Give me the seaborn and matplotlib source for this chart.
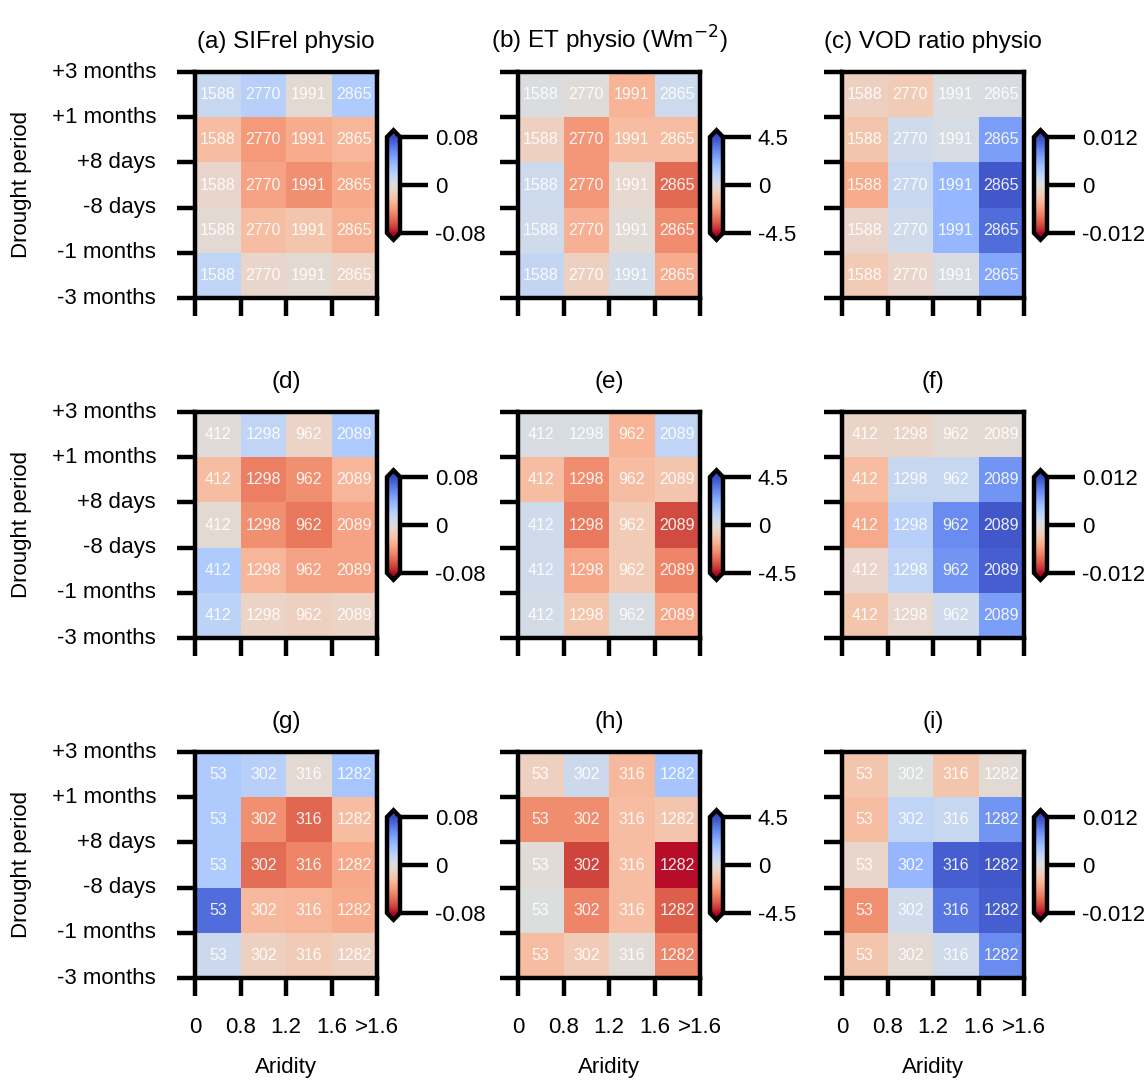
import numpy as np
import matplotlib.pyplot as plt
import seaborn as sns

# Axis labels
periods = ["+3 months", "+1 months", "+8 days", "-8 days", "-1 months", "-3 months"]
aridity = ["0", "0.8", "1.2", "1.6", ">1.6"]

# Sample counts per aridity bin (one list per row of panels)
counts_top = [1588, 2770, 1991, 2865]
counts_mid = [412, 1298, 962, 2089]
counts_bot = [53, 302, 316, 1282]

# SIFrel physio (rows: drought period, cols: aridity bins)
sif_a = [[0.012, 0.020, -0.004, 0.024],
         [-0.024, -0.040, -0.032, -0.028],
         [-0.008, -0.036, -0.044, -0.034],
         [-0.004, -0.024, -0.020, -0.030],
         [0.016, -0.008, -0.004, -0.010]]
sif_d = [[-0.002, 0.016, -0.010, 0.024],
         [-0.024, -0.050, -0.044, -0.028],
         [-0.004, -0.044, -0.052, -0.036],
         [0.024, -0.028, -0.036, -0.036],
         [0.018, -0.010, -0.012, -0.010]]
sif_g = [[0.024, 0.020, -0.004, 0.028],
         [0.024, -0.044, -0.058, -0.024],
         [0.024, -0.056, -0.048, -0.034],
         [0.068, -0.026, -0.028, -0.032],
         [0.010, -0.012, -0.016, -0.012]]

# ET physio (W m-2)
et_b = [[0.1, -0.1, -1.6, 0.5],
        [-0.7, -2.3, -1.35, -1.35],
        [0.5, -2.3, -0.35, -3.2],
        [0.45, -1.7, -0.2, -2.5],
        [0.8, -0.7, 0.35, -1.8]]
et_e = [[0.15, 0.2, -1.6, 0.9],
        [-1.35, -2.5, -1.35, -1.1],
        [0.45, -2.9, -0.9, -3.7],
        [0.45, -2.0, -0.9, -2.7],
        [0.35, -1.1, 0.2, -2.0]]
et_h = [[-0.7, 0.55, -1.45, 1.6],
        [-2.5, -2.5, -1.35, -1.1],
        [-0.2, -3.8, -1.35, -4.4],
        [0.0, -2.7, -1.35, -3.4],
        [-1.35, -0.9, -0.2, -2.7]]

# VOD ratio physio
vod_c = [[-0.0018, -0.0024, 0.0002, 0.0004],
         [-0.0030, 0.0012, 0.0006, 0.0072],
         [-0.0048, 0.0018, 0.0054, 0.0114],
         [-0.0012, 0.0012, 0.0054, 0.0102],
         [-0.0024, -0.0012, 0.0004, 0.0066]]
vod_f = [[-0.0014, -0.0014, -0.0006, -0.0006],
         [-0.0036, 0.0018, 0.0018, 0.0078],
         [-0.0050, 0.0030, 0.0084, 0.0114],
         [-0.0012, 0.0024, 0.0078, 0.0110],
         [-0.0030, -0.0010, 0.0012, 0.0072]]
vod_i = [[-0.0030, 0.0000, -0.0030, -0.0006],
         [-0.0036, 0.0024, 0.0018, 0.0078],
         [-0.0012, 0.0054, 0.0110, 0.0114],
         [-0.0066, 0.0012, 0.0096, 0.0110],
         [-0.0030, -0.0006, 0.0012, 0.0084]]

titles = ["(a) SIFrel physio", "(b) ET physio (Wm$^{-2}$)", "(c) VOD ratio physio",
          "(d)", "(e)", "(f)", "(g)", "(h)", "(i)"]
limits = [0.08, 4.5, 0.012]
limit_labels = [["-0.08", "0", "0.08"], ["-4.5", "0", "4.5"], ["-0.012", "0", "0.012"]]

panels = [[sif_a, et_b, vod_c], [sif_d, et_e, vod_f], [sif_g, et_h, vod_i]]
counts = [counts_top, counts_mid, counts_bot]

sns.set_theme(style="ticks")
plt.rcParams['font.family'] = ['Liberation Sans', 'DejaVu Sans']
plt.rcParams['text.color'] = 'black'
plt.rcParams['axes.labelcolor'] = 'black'
plt.rcParams['xtick.color'] = 'black'
plt.rcParams['ytick.color'] = 'black'

W, H = 1148, 1080
fig = plt.figure(figsize=(W / 100, H / 100), dpi=100)

col_left = [195, 518, 842]
row_top = [72, 412, 752]
ax_w, ax_h = 182, 226
cb_body = 96
ext = 0.07

for r in range(3):
    for c in range(3):
        x0, y0 = col_left[c], row_top[r]
        ax = fig.add_axes([x0 / W, 1 - (y0 + ax_h) / H, ax_w / W, ax_h / H])
        cb_h = cb_body * (1 + 2 * ext)
        cb_y = y0 + ax_h / 2 - cb_h / 2
        cax = fig.add_axes([(x0 + ax_w + 10) / W, 1 - (cb_y + cb_h) / H, 13 / W, cb_h / H])

        vals = np.array(panels[r][c])
        ann = np.tile(counts[r], (5, 1))
        v = limits[c]
        sns.heatmap(vals, ax=ax, cmap='coolwarm_r', vmin=-v, vmax=v,
                    annot=ann, fmt='d',
                    annot_kws={'color': 'white', 'fontsize': 11.5, 'alpha': 0.9},
                    cbar_ax=cax, cbar_kws={'extend': 'both', 'extendfrac': ext})

        for s in ax.spines.values():
            s.set_visible(True)
            s.set_linewidth(3.2)
            s.set_color('black')
        ax.set_yticks(np.arange(6))
        ax.set_xticks(np.arange(5))
        ax.tick_params(axis='both', length=13, width=3.2, color='black',
                       direction='out', pad=15, labelsize=16, labelcolor='black')
        if c == 0:
            ax.set_yticklabels(periods, rotation=0)
            ax.set_ylabel('Drought period', fontsize=16, labelpad=14)
        else:
            ax.set_yticklabels([])
        if r == 2:
            ax.set_xticklabels(aridity, rotation=0)
            ax.set_xlabel('Aridity', fontsize=16, labelpad=14)
        else:
            ax.set_xticklabels([])
        ax.set_title(titles[r * 3 + c], fontsize=17.5, pad=17, color='black')

        cbar = ax.collections[0].colorbar
        cbar.set_ticks([-v, 0, v])
        cbar.set_ticklabels(limit_labels[c])
        cbar.ax.tick_params(length=20, width=3.2, pad=5, labelsize=16,
                            color='black', labelcolor='black')
        cbar.outline.set_linewidth(3.2)
        cbar.outline.set_edgecolor('black')

fig.savefig('out.png', dpi=100, facecolor='white')
